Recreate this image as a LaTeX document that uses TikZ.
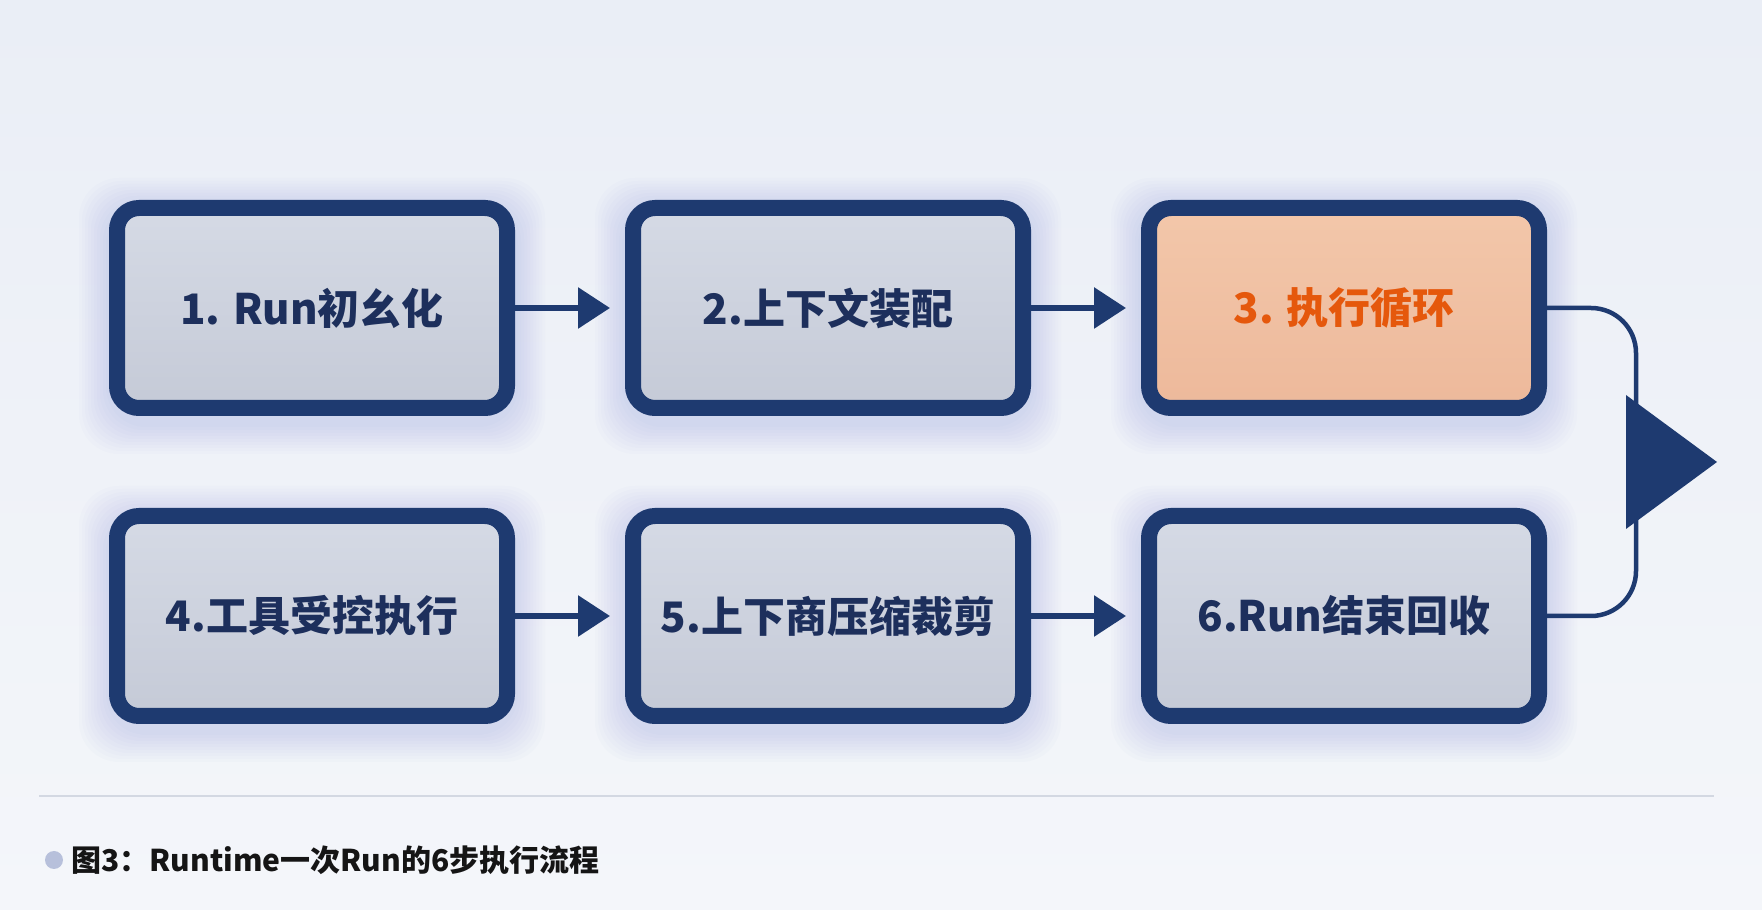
\documentclass[tikz,border=0pt]{standalone}
\usepackage{fontspec}
\setmainfont{Noto Sans CJK SC}
\usetikzlibrary{arrows.meta,calc}
\definecolor{navy}{HTML}{1E3A70}
\definecolor{txt}{HTML}{1D2F5C}
\definecolor{boxtop}{HTML}{D5DAE5}
\definecolor{boxbot}{HTML}{C5CAD7}
\definecolor{peachtop}{HTML}{F3C7AA}
\definecolor{peachbot}{HTML}{EDB99B}
\definecolor{orangetxt}{HTML}{E5580C}
\definecolor{bgtop}{HTML}{EAEEF6}
\definecolor{bgbot}{HTML}{F4F6FA}
\definecolor{glowc}{HTML}{8496D4}
\definecolor{sepc}{HTML}{D3D8E2}
\definecolor{dotc}{HTML}{B7C0DB}
\definecolor{captxt}{HTML}{151515}
\pgfdeclarelayer{bglayer}
\pgfdeclarelayer{glowlayer}
\pgfsetlayers{bglayer,glowlayer,main}
\begin{document}
\begin{tikzpicture}[x=1pt,y=1pt,
  stepbox/.style={draw=navy, line width=16pt, rounded corners=22pt,
    top color=boxtop, bottom color=boxbot,
    minimum width=390pt, minimum height=200pt,
    font=\fontsize{42}{50}\selectfont\bfseries, text=txt},
  hotbox/.style={stepbox, top color=peachtop, bottom color=peachbot, text=orangetxt},
  flowarrow/.style={draw=navy, line width=6pt, -{Triangle[length=32pt,width=40pt]}, shorten >=15pt},
  loopline/.style={draw=navy, line width=4.5pt, rounded corners=45pt}
]
\begin{pgfonlayer}{bglayer}
\shade[top color=bgtop, bottom color=bgbot] (0,0) rectangle (1762,910);
\end{pgfonlayer}
\useasboundingbox (0,0) rectangle (1762,910);

\node[stepbox] (b1) at (312,602) {1. Run初幺化};
\node[stepbox] (b2) at (828,602) {2.上下文装配};
\node[hotbox]  (b3) at (1344,602) {3. 执行循环};
\node[stepbox] (b4) at (312,294) {4.工具受控执行};
\node[stepbox] (b5) at (828,294) {5.上下商压缩裁剪};
\node[stepbox] (b6) at (1344,294) {6.Run结束回收};

\begin{pgfonlayer}{glowlayer}
\foreach \n in {b1,b2,b3,b4,b5,b6}{
  \foreach \s in {3,6,...,30}{
    \fill[glowc, opacity=0.028, rounded corners=40pt]
      ($(\n.south west)+(-\s,-\s-8)$) rectangle ($(\n.north east)+(\s,\s-8)$);
  }
}
\end{pgfonlayer}

\draw[flowarrow] (b1.east) -- (b2.west);
\draw[flowarrow] (b2.east) -- (b3.west);
\draw[flowarrow] (b4.east) -- (b5.west);
\draw[flowarrow] (b5.east) -- (b6.west);

\coordinate (rt) at (1636,602);
\coordinate (rb) at (1636,294);
\draw[loopline] (b3.east) -- (rt) -- (rb) -- (b6.east);
\fill[navy] (1626,515) -- (1717,448) -- (1626,381) -- cycle;

\coordinate (sepl) at (39,114);
\coordinate (sepr) at (1714,114);
\draw[sepc, line width=1.5pt] (sepl) -- (sepr);

\node[circle, fill=dotc, minimum size=18pt, inner sep=0pt] (dot) at (54,50) {};
\node[anchor=west, font=\fontsize{30}{36}\selectfont\bfseries, text=captxt, inner sep=0pt] (cap) at (71,50) {图3：Runtime一次Run的6步执行流程};
\end{tikzpicture}
\end{document}
